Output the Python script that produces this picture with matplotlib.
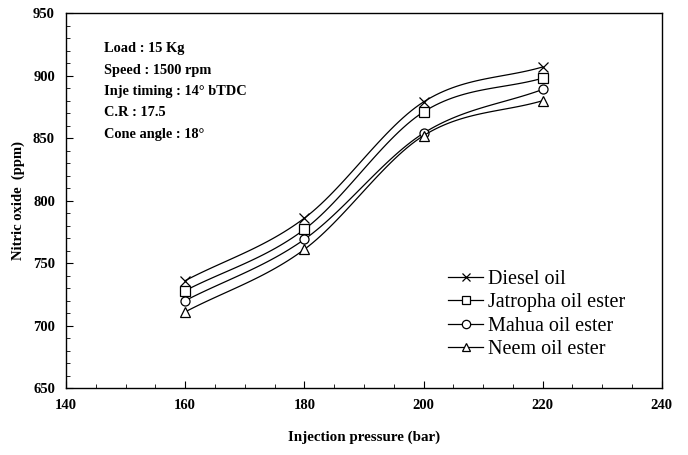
import numpy as np
import matplotlib
matplotlib.use("Agg")
import matplotlib.pyplot as plt
from matplotlib.ticker import MultipleLocator
from matplotlib.lines import Line2D

pressure = [160, 180, 200, 220]
diesel = [736, 786, 879, 907]
jatropha = [728, 777, 871, 898]
mahua = [720, 769, 854, 889]
neem = [711, 761, 852, 880]
series_names = ["Diesel oil", "Jatropha oil ester", "Mahua oil ester", "Neem oil ester"]
markers = ["x", "s", "o", "^"]

conditions = ["Load : 15 Kg", "Speed : 1500 rpm", "Inje timing : 14\u00b0 bTDC",
              "C.R : 17.5", "Cone angle : 18\u00b0"]


def smooth(x, y, n=30):
    # catmull-rom, like excel's smoothed line
    x = np.asarray(x, float)
    y = np.asarray(y, float)
    px = np.concatenate([[2 * x[0] - x[1]], x, [2 * x[-1] - x[-2]]])
    py = np.concatenate([[2 * y[0] - y[1]], y, [2 * y[-1] - y[-2]]])
    xs, ys = [], []
    t = np.linspace(0, 1, n)
    for i in range(1, len(px) - 2):
        for p, out in ((px, xs), (py, ys)):
            p0, p1, p2, p3 = p[i - 1], p[i], p[i + 1], p[i + 2]
            out.extend(0.5 * (2 * p1 + (-p0 + p2) * t + (2 * p0 - 5 * p1 + 4 * p2 - p3) * t ** 2
                              + (-p0 + 3 * p1 - 3 * p2 + p3) * t ** 3))
    return xs, ys


plt.rcParams['font.family'] = ['Liberation Serif', 'DejaVu Serif']

fig = plt.figure(figsize=(6.88, 4.55), dpi=100)
ax = fig.add_axes([0.096, 0.147, 0.866, 0.824])

handles = []
for vals, name, m in zip([diesel, jatropha, mahua, neem], series_names, markers):
    sx, sy = smooth(pressure, vals)
    ax.plot(sx, sy, color="black", lw=0.9)
    ax.plot(pressure, vals, linestyle="none", marker=m, markersize=6.5,
            markerfacecolor="white", markeredgecolor="black", markeredgewidth=0.9)
    handles.append(Line2D([], [], color="black", lw=0.9, marker=m, markersize=6,
                          markerfacecolor="white", markeredgecolor="black",
                          markeredgewidth=0.9, label=name))

ax.set_xlim(140, 240)
ax.set_ylim(650, 950)
ax.xaxis.set_major_locator(MultipleLocator(20))
ax.xaxis.set_minor_locator(MultipleLocator(5))
ax.yaxis.set_major_locator(MultipleLocator(50))
ax.yaxis.set_minor_locator(MultipleLocator(10))
ax.tick_params(which="both", direction="in", top=False, right=False)
ax.tick_params(which="major", length=5, labelsize=10.5, pad=8)
ax.tick_params(which="minor", length=3)
for lab in ax.get_xticklabels() + ax.get_yticklabels():
    lab.set_fontweight("bold")
for s in ax.spines.values():
    s.set_linewidth(1.0)

ax.set_xlabel("Injection pressure (bar)", fontsize=10.8, fontweight="bold", labelpad=13)
ax.set_ylabel("Nitric oxide  (ppm)", fontsize=10.5, fontweight="bold", labelpad=6)

ax.text(0.063, 0.922, "\n".join(conditions), transform=ax.transAxes, fontsize=10.4,
        fontweight="bold", va="top", ha="left", linespacing=1.83)

ax.legend(handles=handles, loc="upper left", bbox_to_anchor=(0.625, 0.343), frameon=False,
          fontsize=14.5, handlelength=1.7, handletextpad=0.25, labelspacing=0.22, borderpad=0)

fig.savefig("out.png", dpi=100)
